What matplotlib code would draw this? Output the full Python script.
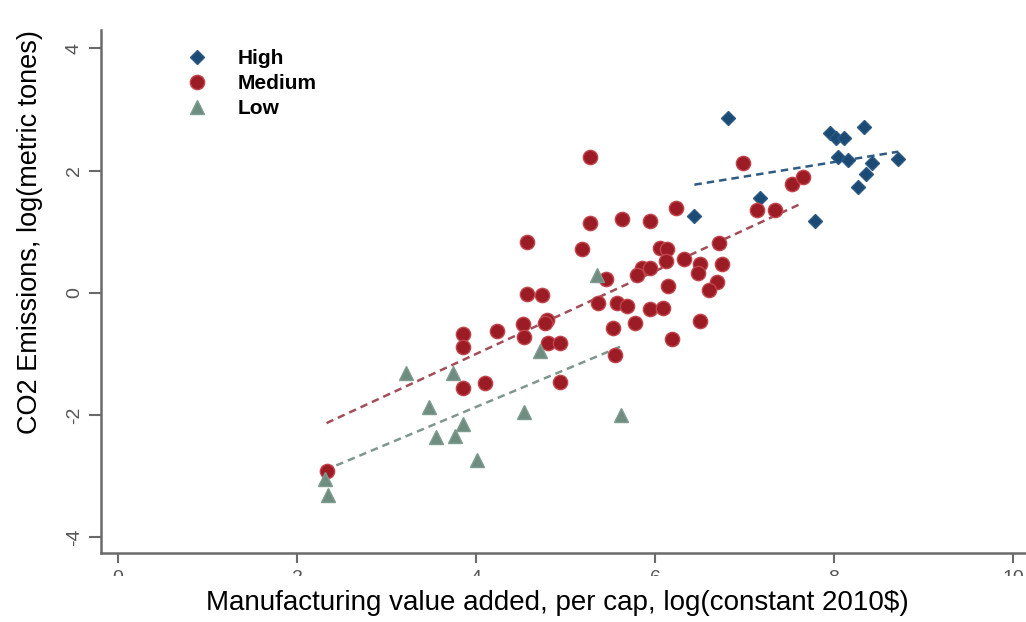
import numpy as np
import matplotlib.pyplot as plt
from matplotlib.patches import Rectangle

plt.rcParams['font.family'] = ['Liberation Sans', 'DejaVu Sans']
plt.rcParams['axes.unicode_minus'] = False

# manufacturing value added per cap (log) vs CO2 emissions (log), by income group
high_x = [6.82, 6.44, 7.17, 7.79, 7.95, 8.02, 8.11, 8.04, 8.16, 8.34, 8.27, 8.36, 8.43, 8.72]
high_y = [2.86, 1.26, 1.55, 1.18, 2.61, 2.53, 2.54, 2.23, 2.17, 2.71, 1.74, 1.95, 2.12, 2.19]

medium_x = [2.33, 3.86, 4.10, 4.94, 3.86, 3.86, 4.24, 4.53, 4.54, 4.79, 4.77, 4.81, 4.94,
            4.57, 4.74, 4.57, 5.18, 5.27, 5.27, 5.63, 5.94, 6.24, 5.36, 5.45, 5.57, 5.69,
            5.53, 5.78, 5.55, 5.94, 6.09, 5.85, 5.94, 5.80, 6.06, 6.13, 6.12, 6.32, 6.15,
            6.19, 6.50, 6.48, 6.75, 6.71, 6.69, 6.60, 6.50, 6.98, 7.14, 7.34, 7.53, 7.65]
medium_y = [-2.91, -1.56, -1.48, -1.46, -0.68, -0.88, -0.62, -0.51, -0.72, -0.44, -0.50, -0.82, -0.82,
            -0.01, -0.03, 0.83, 0.72, 1.15, 2.22, 1.21, 1.17, 1.39, -0.17, 0.23, -0.17, -0.22,
            -0.57, -0.49, -1.01, -0.26, -0.24, 0.41, 0.40, 0.29, 0.74, 0.72, 0.53, 0.56, 0.11,
            -0.76, 0.47, 0.33, 0.47, 0.82, 0.18, 0.04, -0.46, 2.13, 1.36, 1.36, 1.78, 1.89]

low_x = [3.22, 3.74, 3.47, 3.85, 3.55, 3.77, 4.01, 4.54, 5.62, 4.72, 5.35, 2.31, 2.35]
low_y = [-1.31, -1.31, -1.86, -2.14, -2.35, -2.34, -2.74, -1.94, -2.00, -0.95, 0.29, -3.05, -3.31]

# linear fits (slope, intercept) for each group
high_fit = [0.237, 0.244]
medium_fit = [0.677, -3.707]
low_fit = [0.612, -4.314]

x_ticks = [0, 2, 4, 6, 8, 10]
y_ticks = [-4, -2, 0, 2, 4]

fig = plt.figure(figsize=(10.26, 6.22), dpi=100)
ax = fig.add_axes([0.0984, 0.1109, 0.9016, 0.8408])

groups = [
    ("High", high_x, high_y, high_fit, 'D', 7.5, '#1b4a74', '#2c5a84', '#2f5b82'),
    ("Medium", medium_x, medium_y, medium_fit, 'o', 10.3, '#9c1c25', '#c2454d', '#a24d58'),
    ("Low", low_x, low_y, low_fit, '^', 9.5, '#6e8d80', '#7f9c90', '#80978e'),
]

for name, xs, ys, fit, mk, ms, fc, ec, lc in groups:
    ax.plot(xs, ys, linestyle='none', marker=mk, markersize=ms,
            markerfacecolor=fc, markeredgecolor=ec, markeredgewidth=1,
            label=name, zorder=3)
    xx = np.array([min(xs), max(xs)])
    ax.plot(xx, fit[0] * xx + fit[1], linestyle=(0, (3, 2)), color=lc,
            linewidth=1.8, zorder=2)

ax.set_xlim(-0.19, 10.145)
ax.set_ylim(-4.255, 4.30)
ax.set_xticks(x_ticks)
ax.set_yticks(y_ticks)

for side in ['top', 'right']:
    ax.spines[side].set_visible(False)
for side in ['left', 'bottom']:
    ax.spines[side].set_color('#6a6a6a')
    ax.spines[side].set_linewidth(1.8)

ax.tick_params(axis='both', color='#6a6a6a', width=1.5, labelcolor='#555555', labelsize=14)
ax.tick_params(axis='y', length=9, pad=4, labelrotation=90)
ax.tick_params(axis='x', length=7.5, pad=5)
for t in ax.get_yticklabels():
    t.set_va('center')

ax.set_xlabel("Manufacturing value added, per cap, log(constant 2010$)", fontsize=20)
ax.xaxis.set_label_coords(0.493, -0.071)
ax.set_ylabel("CO2 Emissions, log(metric tones)", fontsize=19.5)
ax.yaxis.set_label_coords(-0.0627, 0.6135)

ax.legend(loc='upper left', bbox_to_anchor=(0.0925, 0.963), frameon=False,
          borderpad=0, borderaxespad=0, handlelength=1, handletextpad=1.47,
          labelspacing=0.29, numpoints=1, prop={'weight': 'bold', 'size': 15})

# the x tick labels are cut off just below their top edge
fig.add_artist(Rectangle((0, (622 - 586) / 622), 1, 10 / 622, transform=fig.transFigure,
                         facecolor='white', edgecolor='none', zorder=10))

fig.savefig('out.png', dpi=100)
